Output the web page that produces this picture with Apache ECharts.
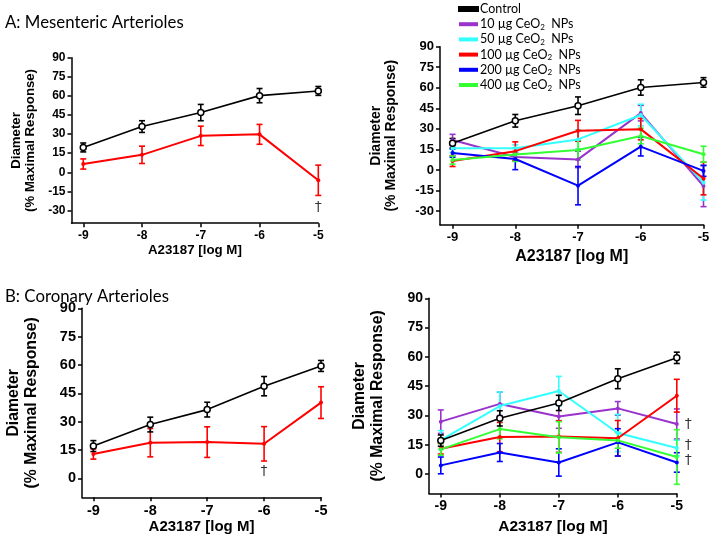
<!DOCTYPE html>
<html><head><meta charset="utf-8">
<script src="https://cdn.jsdelivr.net/npm/echarts@6/dist/echarts.min.js"></script>
<style>html,body{margin:0;padding:0;background:#fff}#c{width:714px;height:541px}</style>
</head><body><div id="c"></div>
<script>
// ---------- data ----------
const doses = [-9, -8, -7, -6, -5];
const xTicks = [-9, -8, -7, -6, -5];
const yTicksMes = [-30, -15, 0, 15, 30, 45, 60, 75, 90];
const yTicksCor = [0, 15, 30, 45, 60, 75, 90];
const seriesNames = ['Control', '10 µg CeO2 NPs', '50 µg CeO2 NPs', '100 µg CeO2 NPs', '200 µg CeO2 NPs', '400 µg CeO2 NPs'];
const seriesColors = ['#000000', '#9933cc', '#33ffff', '#ff0000', '#0000ff', '#33ff33'];

// Mesenteric arterioles (mean, SEM)
const mesControl    = [19.5, 35.9, 46.9, 60.2, 63.9];
const mesControlErr = [3.5, 4.6, 6.4, 5.6, 3.5];
const mes10     = [21.8, 9.5, 7.7, 41.5, -11.8];
const mes10Err  = [4.2, 3, 6, 5.7, 15];
const mes50     = [15.8, 15.8, 22.3, 40.1, -9.3];
const mes50Err  = [3, 2.5, 7, 7.9, 12.7];
const mes100    = [6.5, 13.7, 28.6, 29.8, -6.3];
const mes100Err = [4, 6.8, 7.6, 7.8, 11.9];
const mes200    = [12.3, 8, -11.5, 17, -0.7];
const mes200Err = [3, 7.8, 14, 6.8, 4];
const mes400    = [7.2, 11.2, 14.5, 24.8, 11.5];
const mes400Err = [3, 5, 7.3, 5.7, 5.8];

// Coronary arterioles (mean, SEM)
const corControl    = [17.1, 28.5, 36.4, 48.8, 59.5];
const corControlErr = [2.9, 3.9, 3.9, 5.1, 2.9];
const cor10     = [26.8, 35.9, 29.4, 33.6, 25.6];
const cor10Err  = [6, 6, 6, 3.5, 7.7];
const cor50     = [17.4, 34.8, 42.5, 21, 13.3];
const cor50Err  = [4.8, 7.2, 7.5, 9.5, 4];
const cor100    = [12.9, 18.9, 19.2, 18.3, 40.1];
const cor100Err = [2.7, 7.5, 8.1, 9.1, 8.4];
const cor200    = [4.4, 11, 5.9, 16.2, 5.9];
const cor200Err = [4.3, 4.6, 7, 7, 5];
const cor400    = [12.6, 23, 18.8, 17.2, 8.7];
const cor400Err = [3, 5, 8, 4, 14];

// Significance daggers [x, y]
const daggerMesLeft = [[-5, -27.3]];
const daggerCorLeft = [[-6, 3.5]];
const daggerCorRight = [[-5, 25.6], [-5, 14.9], [-5, 7.2]];

// ---------- build ----------
const BOLD = 'Liberation Sans, Arial, sans-serif';
const panels = [
  { grid: { left: 71.5, top: 57.7, width: 246.8, height: 165.5 }, ymin: -40, yTicks: yTicksMes,
    tick: 12, yName: 13.2, yLH: 14, yGap: 34, xName: 13.3, xGap: 21,
    groups: [[0, mesControl, mesControlErr], [3, mes100, mes100Err]], dag: daggerMesLeft, dagPos: 'inside' },
  { grid: { left: 440, top: 46.7, width: 263.5, height: 178 }, ymin: -40, yTicks: yTicksMes,
    tick: 13, yName: 14, yLH: 15, yGap: 41, xName: 16, xGap: 24,
    groups: [[0, mesControl, mesControlErr], [1, mes10, mes10Err], [2, mes50, mes50Err], [3, mes100, mes100Err], [4, mes200, mes200Err], [5, mes400, mes400Err]], dag: [], dagPos: 'inside' },
  { grid: { left: 82, top: 308.3, width: 239, height: 189 }, ymin: -10, yTicks: yTicksCor,
    tick: 14.5, yName: 15.8, yLH: 18, yGap: 41, xName: 15, xGap: 21,
    groups: [[0, corControl, corControlErr], [3, cor100, cor100Err]], dag: daggerCorLeft, dagPos: 'inside' },
  { grid: { left: 429, top: 298.3, width: 247.8, height: 195.2 }, ymin: -10, yTicks: yTicksCor,
    tick: 14, yName: 15.8, yLH: 18, yGap: 42, xName: 15.5, xGap: 25,
    groups: [[0, corControl, corControlErr], [1, cor10, cor10Err], [2, cor50, cor50Err], [3, cor100, cor100Err], [4, cor200, cor200Err], [5, cor400, cor400Err]], dag: daggerCorRight, dagPos: 'right' }
];

const grids = [], xAxes = [], yAxes = [], series = [];
panels.forEach((p, i) => {
  grids.push(p.grid);
  xAxes.push({
    type: 'value', gridIndex: i, min: -9.2, max: -5,
    name: 'A23187 [log M]', nameLocation: 'middle', nameGap: p.xGap,
    nameTextStyle: { fontFamily: BOLD, fontWeight: 'bold', fontSize: p.xName, color: '#000' },
    axisLine: { show: true, onZero: false, lineStyle: { color: '#000', width: 1.5 } },
    axisTick: { show: true, customValues: xTicks, length: 4, lineStyle: { color: '#000', width: 1.5 } },
    axisLabel: { customValues: xTicks, fontFamily: BOLD, fontWeight: 'bold', fontSize: p.tick, color: '#000', margin: 6 },
    splitLine: { show: false }
  });
  yAxes.push({
    type: 'value', gridIndex: i, min: p.ymin, max: 90,
    name: 'Diameter\n(% Maximal Response)', nameLocation: 'middle', nameRotate: 90, nameGap: p.yGap,
    nameTextStyle: { fontFamily: BOLD, fontWeight: 'bold', fontSize: p.yName, lineHeight: p.yLH, color: '#000' },
    axisLine: { show: true, onZero: false, lineStyle: { color: '#000', width: 1.5 } },
    axisTick: { show: true, customValues: p.yTicks, length: 4, lineStyle: { color: '#000', width: 1.5 } },
    axisLabel: { customValues: p.yTicks, fontFamily: BOLD, fontWeight: 'bold', fontSize: p.tick, color: '#000', margin: 6 },
    splitLine: { show: false }
  });
  p.groups.forEach(([k, mean, err]) => {
    const color = seriesColors[k];
    const isCtrl = k === 0;
    series.push({
      type: 'line', name: seriesNames[k], xAxisIndex: i, yAxisIndex: i, z: isCtrl ? 4 : 3,
      data: doses.map((d, j) => [d, mean[j]]),
      symbol: 'circle', symbolSize: isCtrl ? 6 : 4,
      itemStyle: isCtrl ? { color: '#fff', borderColor: '#000', borderWidth: 1.5 } : { color: color },
      lineStyle: { color: color, width: isCtrl ? 1.6 : 2 },
      color: color
    });
    series.push({
      type: 'custom', name: seriesNames[k], xAxisIndex: i, yAxisIndex: i, z: isCtrl ? 3 : 2,
      itemStyle: { color: color }, color: color,
      data: doses.map((d, j) => [d, mean[j], err[j]]),
      renderItem: (params, api) => {
        const x = api.value(0), y = api.value(1), e = api.value(2);
        const t = api.coord([x, y + e]), b = api.coord([x, y - e]);
        const w = 3;
        const st = { stroke: color, lineWidth: 1.6, fill: null };
        return { type: 'group', children: [
          { type: 'line', shape: { x1: t[0], y1: t[1], x2: b[0], y2: b[1] }, style: st },
          { type: 'line', shape: { x1: t[0] - w, y1: t[1], x2: t[0] + w, y2: t[1] }, style: st },
          { type: 'line', shape: { x1: b[0] - w, y1: b[1], x2: b[0] + w, y2: b[1] }, style: st }
        ]};
      },
      silent: true
    });
  });
  if (p.dag.length) {
    series.push({
      type: 'scatter', xAxisIndex: i, yAxisIndex: i, symbolSize: 0, clip: false, silent: true,
      data: p.dag,
      label: { show: true, formatter: '†', position: p.dagPos, distance: 8, fontFamily: 'DejaVu Sans', fontSize: 14, color: '#000' }
    });
  }
});

const chart = echarts.init(document.getElementById('c'), null, { renderer: 'canvas' });
chart.setOption({
  animation: false,
  backgroundColor: '#fff',
  title: [
    { text: 'A: Mesenteric Arterioles', left: 5, top: 14, padding: 0, textStyle: { fontFamily: 'Lato', fontWeight: 'normal', fontSize: 16.8, color: '#000' } },
    { text: 'B: Coronary Arterioles', left: 5, top: 288, padding: 0, textStyle: { fontFamily: 'Lato', fontWeight: 'normal', fontSize: 16.8, color: '#000' } }
  ],
  legend: {
    data: seriesNames.map((n, k) => ({ name: n, itemStyle: { color: seriesColors[k] } })),
    orient: 'vertical', left: 458, top: 2, padding: 0,
    icon: 'rect', itemWidth: 19, itemHeight: 4, itemGap: 1.2,
    selectedMode: false,
    formatter: n => n.replace('CeO2', 'CeO{sub|2}'),
    textStyle: { fontFamily: 'Lato', fontSize: 12.5, color: '#000', lineHeight: 14, padding: [0, 0, 0, -3],
      rich: { sub: { fontFamily: 'Lato', fontSize: 8, color: '#000', padding: [6, 3, 0, 0], lineHeight: 14 } } }
  },
  grid: grids, xAxis: xAxes, yAxis: yAxes, series: series
});
</script></body></html>
